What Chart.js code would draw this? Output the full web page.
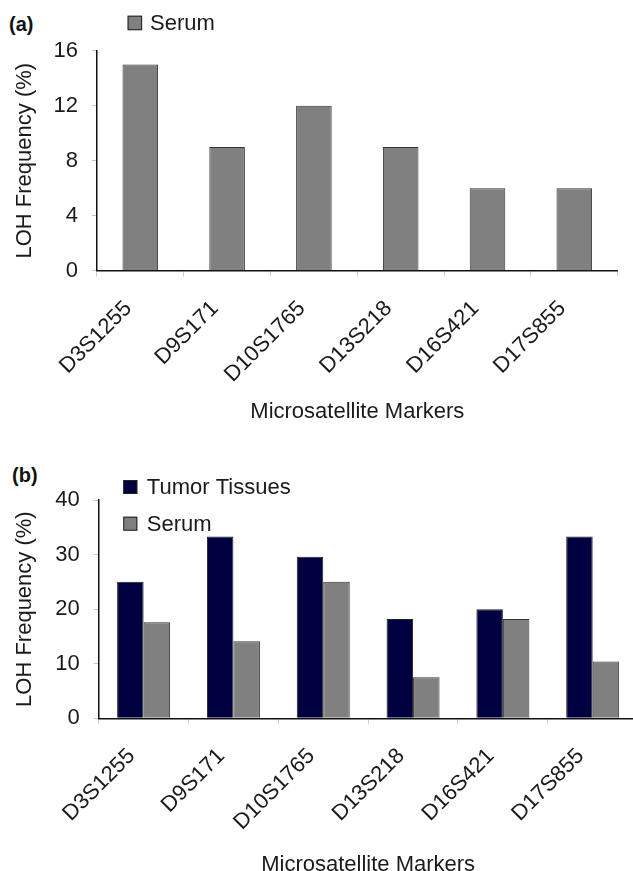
<!DOCTYPE html>
<html>
<head>
<meta charset="utf-8">
<script src="https://cdn.jsdelivr.net/npm/chart.js@4.4.1/dist/chart.umd.min.js"></script>
<style>
  html, body { margin: 0; padding: 0; width: 633px; height: 871px; overflow: hidden; background: #fff; }
  canvas { position: absolute; left: 0; }
  #chartA { top: 0; }
  #chartB { top: 440px; }
  .panel { position: absolute; font: bold 20px "Liberation Sans", Arial, sans-serif; color: #111; }
</style>
</head>
<body>
<div class="panel" style="left:9px; top:13px;">(a)</div>
<div class="panel" style="left:12px; top:464px;">(b)</div>
<canvas id="chartA" width="633" height="440"></canvas>
<canvas id="chartB" width="640" height="460"></canvas>
<script>
(function () {
    // ── Data ───────────────────────────────────────────────
    const markers = ['D3S1255', 'D9S171', 'D10S1765', 'D13S218', 'D16S421', 'D17S855'];
    const serumA = [15, 9, 12, 9, 6, 6];
    const tumorB = [25, 33.3, 29.6, 18.2, 20, 33.3];
    const serumB = [17.6, 14.1, 25, 7.5, 18.2, 10.4];
    const ticksA = [0, 4, 8, 12, 16];
    const ticksB = [0, 10, 20, 30, 40];

    const GRAY = '#808080';
    const NAVY = '#000040';
    const FONT = "'Liberation Sans', Arial, sans-serif";
    const TEXT = '#1a1a1a';

    Chart.defaults.font.family = FONT;
    Chart.defaults.color = TEXT;

    // ── Legend drawn as boxes + labels ─────────────────────
    const boxLegend = {
        id: 'boxLegend',
        afterDraw(chart, args, opts) {
            const ctx = chart.ctx;
            ctx.save();
            ctx.font = `22px ${FONT}`;
            ctx.textBaseline = 'middle';
            chart.data.datasets.forEach((ds, i) => {
                const x = opts.x, y = opts.y + i * opts.rowGap;
                ctx.fillStyle = ds.backgroundColor;
                ctx.fillRect(x, y, opts.box, opts.box);
                ctx.strokeStyle = '#222';
                ctx.lineWidth = 1;
                ctx.strokeRect(x + 0.5, y + 0.5, opts.box - 1, opts.box - 1);
                ctx.fillStyle = TEXT;
                ctx.fillText(ds.label, x + opts.box + opts.textGap, y + opts.box / 2 + 1);
            });
            ctx.restore();
        }
    };

    function scales(yMax, step, yTicks, yWidth, xHeight, xTitlePad) {
        return {
            x: {
                grid: { offset: true, drawOnChartArea: false, tickLength: 6, color: '#d0d0d0' },
                border: { color: '#111', width: 1.5 },
                ticks: { font: { size: 22 }, minRotation: 45, maxRotation: 45, padding: 19, labelOffset: -12 },
                title: { display: true, text: 'Microsatellite Markers', font: { size: 22 }, padding: { top: 0, bottom: xTitlePad } },
                afterFit: s => { s.height = xHeight; }
            },
            y: {
                min: 0, max: yMax,
                grid: { drawOnChartArea: false, tickLength: 5, color: '#c8c8c8' },
                border: { color: '#111', width: 1.5 },
                ticks: { stepSize: step, font: { size: 22 }, padding: 14 },
                afterBuildTicks: s => { s.ticks = yTicks.map(v => ({ value: v })); },
                title: { display: true, text: 'LOH Frequency (%)', font: { size: 22 }, padding: { top: 12, bottom: 0 } },
                afterFit: s => { s.width = yWidth; }
            }
        };
    }

    // ── Panel (a) ──────────────────────────────────────────
    new Chart(document.getElementById('chartA'), {
        type: 'bar',
        data: {
            labels: markers,
            datasets: [{
                label: 'Serum',
                data: serumA,
                backgroundColor: GRAY,
                borderColor: '#333',
                borderWidth: 1,
                barPercentage: 0.41,
                categoryPercentage: 1
            }]
        },
        options: {
            responsive: false,
            animation: false,
            layout: { padding: { top: 50.7, right: 15.3, left: 0, bottom: 0 } },
            plugins: {
                legend: { display: false },
                tooltip: { enabled: false },
                boxLegend: { x: 127.6, y: 15.7, box: 14.5, rowGap: 0, textGap: 8 }
            },
            scales: scales(16, 4, ticksA, 96.9, 169.3, 15)
        },
        plugins: [boxLegend]
    });

    // ── Panel (b) ──────────────────────────────────────────
    new Chart(document.getElementById('chartB'), {
        type: 'bar',
        data: {
            labels: markers,
            datasets: [{
                label: 'Tumor Tissues',
                data: tumorB,
                backgroundColor: NAVY,
                borderColor: '#222',
                borderWidth: 1,
                barPercentage: 1,
                categoryPercentage: 0.59
            }, {
                label: 'Serum',
                data: serumB,
                backgroundColor: GRAY,
                borderColor: '#333',
                borderWidth: 1,
                barPercentage: 1,
                categoryPercentage: 0.59
            }]
        },
        options: {
            responsive: false,
            animation: false,
            layout: { padding: { top: 60, right: 2.4, left: 0, bottom: 0 } },
            plugins: {
                legend: { display: false },
                tooltip: { enabled: false },
                boxLegend: { x: 123.3, y: 40, box: 14, rowGap: 36.7, textGap: 9.5 }
            },
            scales: scales(40, 10, ticksB, 98.7, 181.7, 22)
        },
        plugins: [boxLegend]
    });
})();
</script>
</body>
</html>
